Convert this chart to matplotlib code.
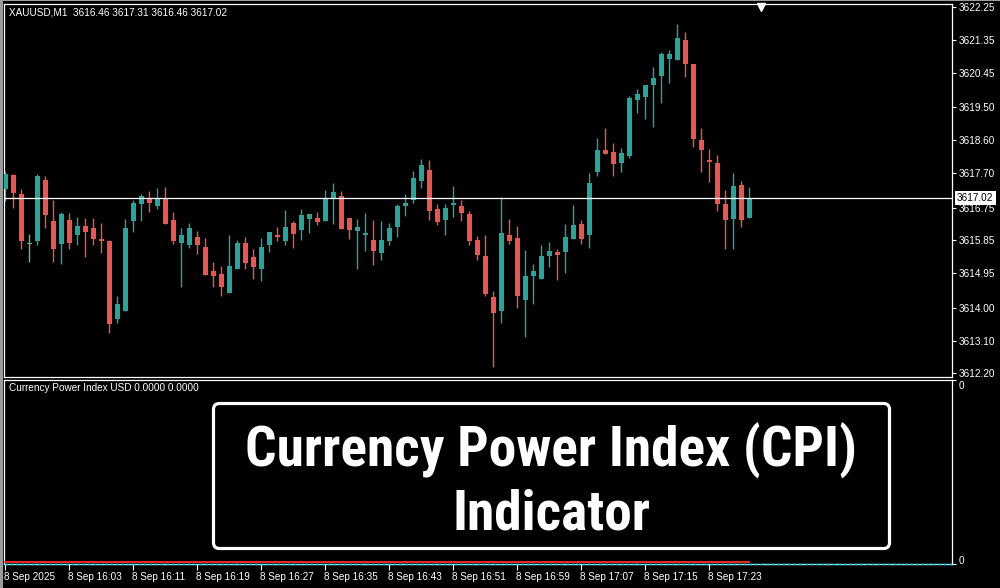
import matplotlib
matplotlib.use("Agg")
import matplotlib.pyplot as plt
import matplotlib.transforms as mtransforms
from matplotlib.patches import FancyBboxPatch, Rectangle
from matplotlib import font_manager as fm
import numpy as np

# ---------------- data ----------------
symbol = "XAUUSD"
timeframe = "M1"
indicator_name = "Currency Power Index USD"
title_lines = ["Currency Power Index (CPI)", "Indicator"]

opens = [3617.26, 3617.65, 3617.12, 3615.74, 3615.84, 3617.51, 3616.38, 3615.76, 3616.41, 3616.01,
         3616.25, 3616.19, 3615.90, 3615.84, 3613.70, 3613.92, 3616.38, 3616.86, 3616.99, 3616.80,
         3617.01, 3616.41, 3615.79, 3615.71, 3615.94, 3615.67, 3615.01, 3614.93, 3614.41, 3615.07,
         3615.79, 3615.39, 3615.07, 3615.73, 3616.00, 3615.82, 3616.33, 3616.14, 3616.45, 3616.46,
         3616.39, 3617.01, 3617.07, 3616.46, 3616.12, 3616.01, 3615.86, 3615.51, 3615.84, 3616.23,
         3616.80, 3616.97, 3617.49, 3617.78, 3616.71, 3616.42, 3616.83, 3616.79, 3616.57, 3615.86,
         3615.42, 3614.30, 3613.92, 3616.00, 3615.92, 3614.22, 3614.88, 3614.80, 3615.43, 3615.53,
         3615.54, 3615.90, 3616.30, 3616.01, 3617.74, 3618.33, 3618.28, 3617.98, 3618.18, 3619.71,
         3619.80, 3620.13, 3620.37, 3620.84, 3620.81, 3621.35, 3620.69, 3618.61, 3618.06, 3617.98,
         3616.85, 3616.45, 3617.37, 3616.46]
highs = [3617.76, 3617.67, 3617.26, 3616.03, 3617.67, 3617.62, 3616.96, 3616.63, 3616.60, 3616.49,
         3616.46, 3616.46, 3616.33, 3615.86, 3614.33, 3616.44, 3616.96, 3617.12, 3617.21, 3617.29,
         3617.32, 3616.63, 3616.19, 3616.33, 3616.11, 3615.92, 3615.26, 3615.15, 3616.00, 3615.86,
         3615.93, 3615.61, 3615.92, 3616.09, 3616.22, 3616.68, 3616.38, 3616.71, 3616.58, 3616.63,
         3617.23, 3617.43, 3617.21, 3616.47, 3616.44, 3616.60, 3616.41, 3616.38, 3616.33, 3616.85,
         3617.12, 3617.76, 3618.09, 3618.06, 3616.85, 3616.85, 3617.34, 3616.96, 3616.66, 3615.97,
         3616.00, 3614.47, 3617.05, 3616.45, 3616.25, 3615.60, 3615.21, 3615.72, 3615.81, 3615.62,
         3616.30, 3616.83, 3616.41, 3617.70, 3618.66, 3618.94, 3618.52, 3618.39, 3619.82, 3620.02,
         3620.13, 3620.62, 3621.02, 3621.08, 3621.79, 3621.57, 3620.70, 3618.94, 3618.36, 3618.19,
         3617.24, 3617.70, 3617.48, 3617.31]
lows = [3616.93, 3616.75, 3615.62, 3615.27, 3615.71, 3616.20, 3615.27, 3615.21, 3615.62, 3615.73,
        3615.40, 3615.73, 3615.51, 3613.32, 3613.59, 3613.90, 3616.09, 3616.39, 3616.64, 3616.72,
        3616.30, 3615.76, 3614.58, 3615.65, 3615.49, 3614.90, 3614.58, 3614.33, 3614.40, 3615.06,
        3615.07, 3614.80, 3614.74, 3615.54, 3615.84, 3615.73, 3615.65, 3615.87, 3616.06, 3616.28,
        3616.38, 3616.31, 3616.16, 3615.90, 3615.07, 3615.57, 3615.18, 3615.32, 3615.71, 3615.93,
        3616.53, 3616.89, 3617.30, 3616.42, 3616.28, 3616.01, 3616.50, 3616.39, 3615.71, 3615.32,
        3614.33, 3612.38, 3613.59, 3615.76, 3614.00, 3613.21, 3614.11, 3614.79, 3615.13, 3614.77,
        3614.96, 3615.89, 3615.76, 3615.65, 3617.63, 3618.22, 3617.63, 3617.74, 3618.12, 3619.36,
        3619.19, 3618.97, 3619.63, 3620.18, 3620.80, 3620.35, 3618.42, 3617.74, 3617.44, 3616.67,
        3615.62, 3615.62, 3616.23, 3616.46]
closes = [3617.67, 3617.16, 3615.84, 3615.74, 3617.62, 3616.55, 3615.62, 3616.57, 3615.79, 3616.25,
          3616.09, 3615.90, 3615.82, 3613.56, 3614.09, 3616.19, 3616.88, 3617.07, 3616.88, 3616.99,
          3616.31, 3615.84, 3616.00, 3616.19, 3615.73, 3614.91, 3614.88, 3614.58, 3615.15, 3615.79,
          3615.24, 3615.13, 3615.67, 3616.08, 3615.93, 3616.22, 3616.03, 3616.55, 3616.57, 3616.36,
          3616.99, 3617.18, 3616.17, 3616.14, 3616.22, 3616.05, 3615.57, 3615.86, 3616.19, 3616.79,
          3616.88, 3617.56, 3617.92, 3616.67, 3616.36, 3616.74, 3616.88, 3616.61, 3615.84, 3615.46,
          3614.39, 3613.87, 3616.06, 3615.82, 3614.33, 3614.87, 3615.01, 3615.42, 3615.56, 3615.46,
          3615.94, 3616.27, 3615.90, 3617.43, 3618.33, 3618.23, 3617.96, 3618.25, 3619.77, 3619.87,
          3620.12, 3620.31, 3620.97, 3620.97, 3621.41, 3620.70, 3618.64, 3618.34, 3618.01, 3616.86,
          3616.42, 3617.35, 3616.42, 3617.02]

cpi_line1 = [0.0] * len(closes)
cpi_line2 = [0.0] * len(closes)

price_ticks = [3622.25, 3621.35, 3620.45, 3619.50, 3618.60, 3617.70, 3616.75,
               3615.85, 3614.95, 3614.00, 3613.10, 3612.20]
time_labels = ["8 Sep 2025", "8 Sep 16:03", "8 Sep 16:11", "8 Sep 16:19", "8 Sep 16:27",
               "8 Sep 16:35", "8 Sep 16:43", "8 Sep 16:51", "8 Sep 16:59", "8 Sep 17:07",
               "8 Sep 17:15", "8 Sep 17:23"]
bars_per_label = 8

# ---------------- style ----------------
UP = "#26a69a"
DOWN = "#ef5350"
DOJI = "#5fbf80"
FONT = ["Liberation Sans", "DejaVu Sans"]
plt.rcParams["font.family"] = FONT

W, H = 1000, 588
fig = plt.figure(figsize=(W / 100, H / 100), dpi=100, facecolor="black")


def fx(px):
    return px / W


def fy(py):
    return 1 - py / H


ax = fig.add_axes([fx(4), fy(377.3), fx(952) - fx(4), fy(4) - fy(377.3)], facecolor="black")
ax2 = fig.add_axes([fx(4), fy(564), fx(952) - fx(4), fy(379.5) - fy(564)], facecolor="black", sharex=ax)

n = len(closes)
x = np.arange(n)
o = np.array(opens); h = np.array(highs); l = np.array(lows); c = np.array(closes)
cols = [UP if cc > oo else (DOWN if cc < oo else DOJI) for oo, cc in zip(o, c)]

ax.vlines(x, l, h, colors=cols, linewidth=1.0, zorder=2)
bottoms = np.minimum(o, c)
heights = np.maximum(np.abs(c - o), 0.03)
ax.bar(x, heights, bottom=bottoms, width=0.62, color=cols, linewidth=0, zorder=3)

ax.set_xlim(-0.16, 118.34)
ax.set_ylim(3612.091, 3622.341)

# current price line + label
ax.axhline(closes[-1], color="white", linewidth=0.9, zorder=4)
trans_lbl = mtransforms.blended_transform_factory(ax.transAxes, ax.transData)
ax.annotate(f"{closes[-1]:.2f}", xy=(1.0, closes[-1]), xycoords=trans_lbl,
            xytext=(5, 0), textcoords="offset pixels", ha="left", va="center",
            color="black", fontsize=7.2, annotation_clip=False, zorder=10,
            bbox=dict(boxstyle="square,pad=0.22", fc="white", ec="none"))

# price axis
ax.yaxis.tick_right()
ax.set_yticks(price_ticks)
ax.set_yticklabels([f"{p:.2f}" for p in price_ticks])
ax.tick_params(axis="y", colors="white", labelsize=7.2, length=3, width=0.8, pad=1.5,
               direction="out", labelcolor="white")
ax.tick_params(axis="x", bottom=False, labelbottom=False)
for sp in ax.spines.values():
    sp.set_color("white"); sp.set_linewidth(0.9)

# chart shift marker
marker_tr = mtransforms.offset_copy(ax.transAxes, fig=fig, y=-3, units="dots")
ax.plot([0.7985], [1.0], marker="v", markersize=5.5, color="white", transform=marker_tr,
        clip_on=False, zorder=10, linestyle="none")

# header
fig.text(fx(9), fy(12.5), f"{symbol},{timeframe}  {opens[-1]:.2f} {highs[-1]:.2f} {lows[-1]:.2f} {closes[-1]:.2f}",
         color="white", fontsize=7.2, ha="left", va="center")

# ---------------- indicator panel ----------------
ax2.set_ylim(0, 1)
ax2.axhline(0, color="#00e5ff", linewidth=1.0, linestyle=(0, (2.5, 1.5)), clip_on=False, zorder=3)
red_tr = mtransforms.offset_copy(ax2.transData, fig=fig, y=1.6, units="dots")
ax2.plot(x, cpi_line1, color="#ff2a2a", linewidth=1.3, transform=red_tr, clip_on=False, zorder=4)
ax2.plot(x, cpi_line2, color="#00e5ff", linewidth=0.0, clip_on=False)

ax2.yaxis.tick_right()
ax2.set_yticks([0, 1])
ax2.set_yticklabels(["0", "0"])
ax2.tick_params(axis="y", colors="white", labelsize=7.2, length=3, width=0.8, pad=1.5)
ylabs = ax2.get_yticklabels()
ylabs[0].set_va("bottom")
ylabs[0].set_transform(ylabs[0].get_transform() + mtransforms.Affine2D().translate(0, -2.5))
ylabs[1].set_va("top")
ylabs[1].set_transform(ylabs[1].get_transform() + mtransforms.Affine2D().translate(0, -1.5))

tick_idx = x[::bars_per_label][:len(time_labels)]
ax2.set_xticks(tick_idx)
ax2.set_xticklabels(time_labels)
ax2.tick_params(axis="x", colors="white", labelsize=7.2, length=4, width=0.8, pad=1.5, direction="out")
for lab in ax2.get_xticklabels():
    lab.set_ha("left")
    lab.set_transform(lab.get_transform() + mtransforms.Affine2D().translate(-1.5, 0))
for sp in ax2.spines.values():
    sp.set_color("white"); sp.set_linewidth(0.9)

fig.text(fx(9), fy(388), f"{indicator_name} {cpi_line1[-1]:.4f} {cpi_line2[-1]:.4f}",
         color="white", fontsize=7.2, ha="left", va="center")

# ---------------- overlay: title box + window border ----------------
ov = fig.add_axes([0, 0, 1, 1], facecolor="none")
ov.set_xlim(0, W); ov.set_ylim(H, 0); ov.axis("off")

ov.add_patch(Rectangle((0, 0), 2.6, H, color="#9c9c9c", lw=0))
ov.add_patch(Rectangle((0, 0), W, 1.2, color="#9c9c9c", lw=0))

ov.add_patch(FancyBboxPatch((213.5, 403.5), 676, 145,
                            boxstyle="round,pad=0,rounding_size=6",
                            fc="black", ec="white", lw=2.3, zorder=5))

names = {f.name for f in fm.fontManager.ttflist}
title_family = next((f for f in ["Liberation Sans Narrow", "Roboto Condensed", "Liberation Sans"] if f in names),
                    "DejaVu Sans")
t1 = ov.text(551, 465.7, title_lines[0], color="white", fontsize=42, fontweight="heavy",
             family=title_family, ha="center", va="baseline", zorder=6)
t2 = ov.text(551, 530.0, title_lines[1], color="white", fontsize=42, fontweight="heavy",
             family=title_family, ha="center", va="baseline", zorder=6)
renderer = fig.canvas.get_renderer()
w1 = t1.get_window_extent(renderer).width
scale = 612.0 / w1
t1.set_fontsize(42 * scale)
t2.set_fontsize(42 * scale)

fig.savefig("out.png", dpi=100, facecolor="black")
